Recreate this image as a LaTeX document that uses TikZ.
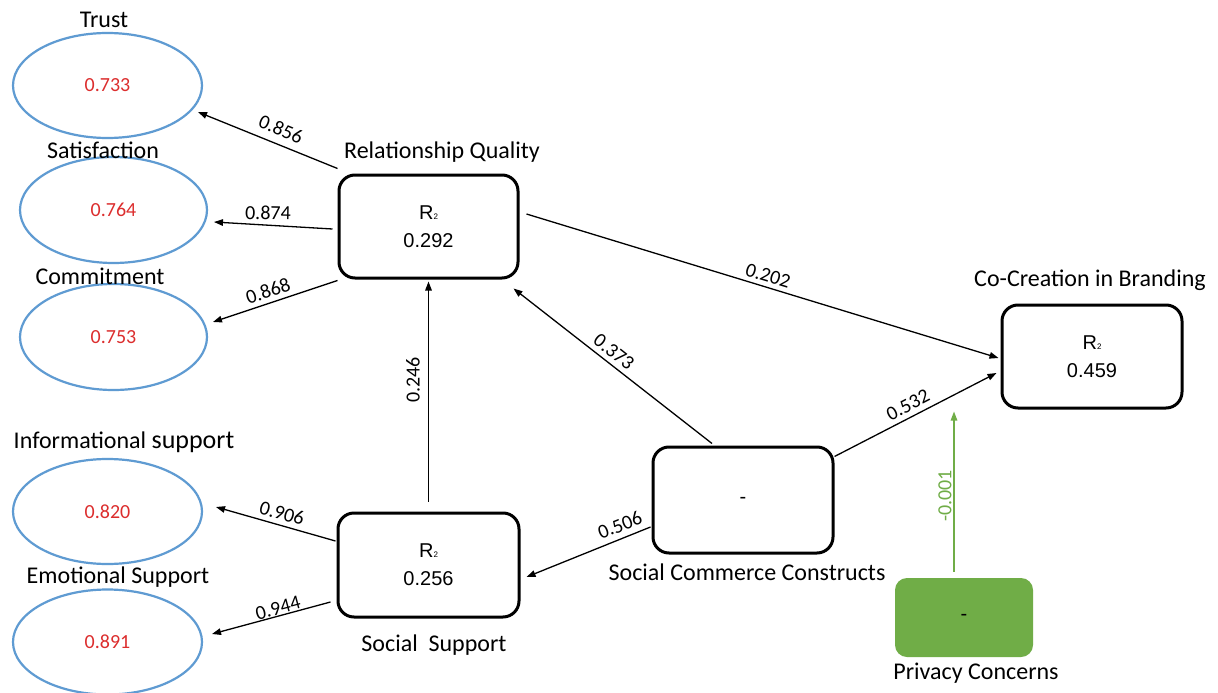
\documentclass[tikz,border=0pt]{standalone}
\usepackage{fontspec}
\setmainfont{Carlito}
\newfontfamily\arialf{Liberation Sans}
\usetikzlibrary{arrows.meta,shapes.geometric}
\definecolor{ellblue}{RGB}{95,155,210}
\definecolor{valred}{RGB}{220,45,45}
\definecolor{pgreen}{RGB}{112,173,71}
\newcommand\rsubtwo{{\fontsize{8}{8}\selectfont 2}}
\begin{document}
\begin{tikzpicture}[x=1pt,y=-1pt,
  ell/.style={ellipse, draw=ellblue, line width=2.2pt, inner sep=0pt, text=valred, font=\fontsize{20}{24}\selectfont},
  cbox/.style={draw=black, line width=3pt, rounded corners=16pt, align=center, font=\arialf\fontsize{20}{28}\selectfont, inner sep=0pt},
  ttl/.style={font=\fontsize{24}{28}\selectfont, inner sep=0pt},
  lbl/.style={font=\fontsize{20}{24}\selectfont, inner sep=0pt},
  conn/.style={line width=1.3pt, -{Triangle[length=9pt,width=6.5pt]}},
]
\useasboundingbox (0,0) rectangle (1218,693);
\fill[white] (0,0) rectangle (1218,693);

% ellipses
\node[ell, minimum width=189pt, minimum height=105pt] (trust) at (107.5,85.5) {0.733};
\node[ell, minimum width=187pt, minimum height=106pt] (sat) at (113.5,210) {0.764};
\node[ell, minimum width=187pt, minimum height=106pt] (com) at (113.5,337) {0.753};
\node[ell, minimum width=189pt, minimum height=105pt] (info) at (107.5,511.5) {0.820};
\node[ell, minimum width=189pt, minimum height=105pt] (emo) at (107.5,642) {0.891};

% ellipse titles
\node[ttl] (tTrust) at (104,20) {Trust};
\node[ttl] (tSat) at (103,150) {Satisfaction};
\node[ttl] (tCom) at (100,276) {Commitment};
\node[ttl] (tInfo) at (124,442) {Informational {\fontsize{26}{28}\selectfont support}};
\node[ttl] (tEmo) at (118,577) {Emotional Support};

% boxes
\node[cbox, minimum width=179pt, minimum height=103pt] (rq) at (428.5,226.5) {R\rsubtwo\\0.292};
\node[cbox, minimum width=181pt, minimum height=104pt] (ss) at (428.5,565) {R\rsubtwo\\0.256};
\node[cbox, minimum width=180pt, minimum height=103pt] (ccb) at (1092,356.5) {R\rsubtwo\\0.459};
\node[cbox, minimum width=180pt, minimum height=106pt] (scc) at (743,500) {-};
\node[fill=pgreen, rounded corners=12pt, minimum width=138pt, minimum height=79pt, inner sep=0pt, font=\arialf\fontsize{20}{24}\selectfont] (pc) at (964,617.5) {-};

% box titles
\node[ttl] (tRQ) at (442,152) {Relationship Quality};
\node[ttl] (tCCB) at (1090,280) {Co-Creation in Branding};
\node[ttl] (tSCC) at (747,572) {Social Commerce Constructs};
\node[ttl] (tSS) at (434,645) {Social\ \ Support};
\node[ttl] (tPC) at (976,673) {Privacy Concerns};

% connectors
\draw[conn] ([yshift=5pt]rq.north west) -- ([xshift=90.5pt,yshift=-26.5pt]trust.center);
\draw[conn] ([xshift=-5pt,yshift=-2.5pt]rq.west) -- ([xshift=100.5pt,yshift=-12pt]sat.center);
\draw[conn] ([yshift=-1pt]rq.south west) -- ([xshift=99.5pt,yshift=15pt]com.center);
\draw[conn] ([xshift=7pt,yshift=12.5pt]rq.east) -- ([xshift=-2pt,yshift=-1.5pt]ccb.west);
\draw[conn] ([xshift=-31pt,yshift=2pt]scc.north) -- ([xshift=-6pt,yshift=-9pt]rq.south east);
\draw[conn] ([yshift=-11pt]scc.north east) -- ([xshift=-4pt,yshift=-16.5pt]ccb.west);
\draw[conn] ([xshift=-1pt,yshift=-27pt]scc.west) -- ([xshift=6pt,yshift=-12pt]ss.east);
\draw[conn] ([yshift=10pt]ss.north) -- ([yshift=-2pt]rq.south);
\draw[conn] ([xshift=-1pt,yshift=24pt]ss.west) -- ([xshift=108.5pt,yshift=4.5pt]info.center);
\draw[conn] ([xshift=-6pt,yshift=-37pt]ss.west) -- ([xshift=104.5pt,yshift=8pt]emo.center);
\draw[conn, draw=pgreen, fill=pgreen] ([xshift=-10pt,yshift=6pt]pc.north) -- ([xshift=-138pt,yshift=-2pt]ccb.south);

% connector labels
\node[lbl, rotate=-22.7] (l856) at (281,129) {0.856};
\node[lbl, rotate=-1] (l874) at (268,213) {0.874};
\node[lbl, rotate=18.8] (l868) at (268,291) {0.868};
\node[lbl, rotate=-16.9] (l202) at (768,276) {0.202};
\node[lbl, rotate=-38.3] (l373) at (614,352) {0.373};
\node[lbl, rotate=27.3] (l532) at (908,405) {0.532};
\node[lbl, rotate=21.5] (l506) at (620,525) {0.506};
\node[lbl, rotate=-15.7] (l906) at (282,513) {0.906};
\node[lbl, rotate=15] (l944) at (278,608) {0.944};
\node[lbl, rotate=90] (l246) at (413,380) {0.246};
\node[lbl, rotate=90, text=pgreen] (l001) at (945,496) {-0.001};
\end{tikzpicture}
\end{document}
